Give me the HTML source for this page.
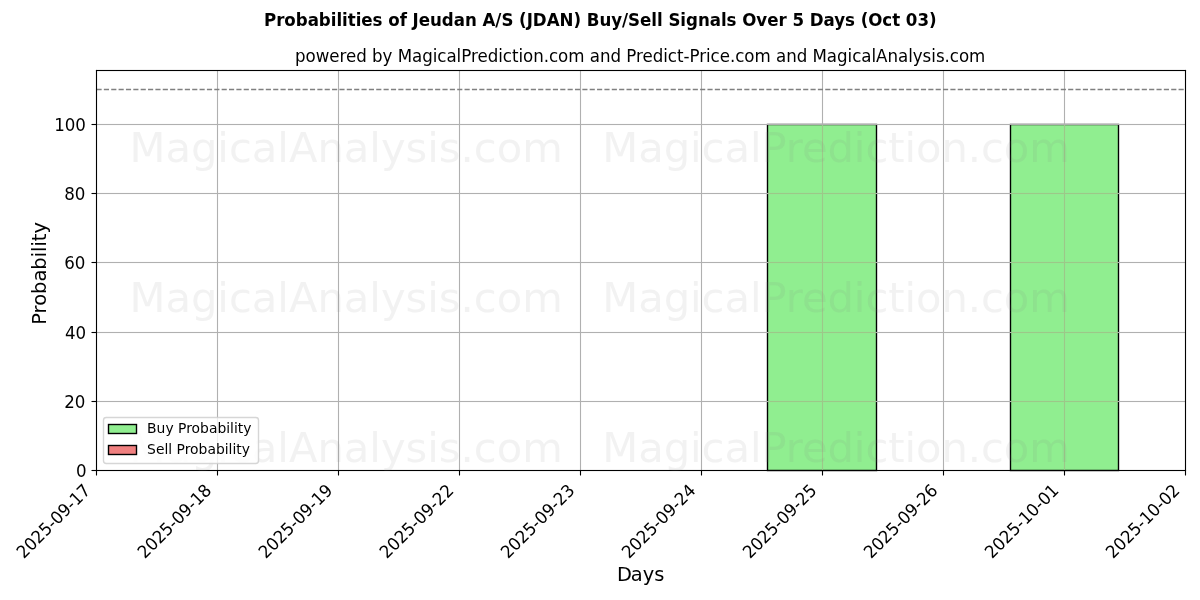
<!DOCTYPE html>
<html lang="en"><head><meta charset="utf-8">
<title>Probabilities of Jeudan A/S (JDAN) Buy/Sell Signals Over 5 Days (Oct 03)</title>
<style>
html,body{margin:0;padding:0;background:#fff;width:1200px;height:600px;overflow:hidden}
svg{display:block}
text{font-family:'DejaVu Sans', 'Liberation Sans', sans-serif;fill:#000}
.t12{font-size:16.667px}.t14{font-size:19.444px}.t10{font-size:13.889px}
.wm{font-size:41.667px;fill:#808080;fill-opacity:0.1;text-anchor:middle}
.grid rect{fill:#b0b0b0}
.tick line{stroke:#000;stroke-width:1.11}
.spine rect{fill:#000}
.bar{fill:#90ee90;stroke:#000;stroke-width:1.389;stroke-linejoin:miter}
</style></head><body>
<svg width="1200" height="600" viewBox="0 0 1200 600">
<rect x="0" y="0" width="1200" height="600" fill="#fff"/>
<g>
<rect class="bar" x="767.5" y="124.5" width="109" height="346"/>
<rect class="bar" x="1010.5" y="124.5" width="108" height="346"/>
</g>
<g class="grid">
<rect x="216.945" y="70.5" width="1.11" height="400.0"/>
<rect x="337.945" y="70.5" width="1.11" height="400.0"/>
<rect x="458.945" y="70.5" width="1.11" height="400.0"/>
<rect x="579.945" y="70.5" width="1.11" height="400.0"/>
<rect x="700.945" y="70.5" width="1.11" height="400.0"/>
<rect x="821.945" y="70.5" width="1.11" height="400.0"/>
<rect x="942.945" y="70.5" width="1.11" height="400.0"/>
<rect x="1063.945" y="70.5" width="1.11" height="400.0"/>
<rect x="96.5" y="123.945" width="1089.0" height="1.11"/>
<rect x="96.5" y="192.945" width="1089.0" height="1.11"/>
<rect x="96.5" y="261.945" width="1089.0" height="1.11"/>
<rect x="96.5" y="331.945" width="1089.0" height="1.11"/>
<rect x="96.5" y="400.945" width="1089.0" height="1.11"/>
</g>
<g stroke="#9cc888" stroke-width="1">
<line x1="822.5" y1="125.2" x2="822.5" y2="469.9"/>
<line x1="768.2" y1="193.5" x2="875.8" y2="193.5"/>
<line x1="768.2" y1="262.5" x2="875.8" y2="262.5"/>
<line x1="768.2" y1="332.5" x2="875.8" y2="332.5"/>
<line x1="768.2" y1="401.5" x2="875.8" y2="401.5"/>
<line x1="1064.5" y1="125.2" x2="1064.5" y2="469.9"/>
<line x1="1011.2" y1="193.5" x2="1117.8" y2="193.5"/>
<line x1="1011.2" y1="262.5" x2="1117.8" y2="262.5"/>
<line x1="1011.2" y1="332.5" x2="1117.8" y2="332.5"/>
<line x1="1011.2" y1="401.5" x2="1117.8" y2="401.5"/>
</g>
<g class="tick">
<line x1="96.5" y1="470.5" x2="96.5" y2="475.50"/>
<line x1="217.5" y1="470.5" x2="217.5" y2="475.50"/>
<line x1="338.5" y1="470.5" x2="338.5" y2="475.50"/>
<line x1="459.5" y1="470.5" x2="459.5" y2="475.50"/>
<line x1="580.5" y1="470.5" x2="580.5" y2="475.50"/>
<line x1="701.5" y1="470.5" x2="701.5" y2="475.50"/>
<line x1="822.5" y1="470.5" x2="822.5" y2="475.50"/>
<line x1="943.5" y1="470.5" x2="943.5" y2="475.50"/>
<line x1="1064.5" y1="470.5" x2="1064.5" y2="475.50"/>
<line x1="1185.5" y1="470.5" x2="1185.5" y2="475.50"/>
<line x1="91.50" y1="470.5" x2="96.5" y2="470.5"/>
<line x1="91.50" y1="401.5" x2="96.5" y2="401.5"/>
<line x1="91.50" y1="332.5" x2="96.5" y2="332.5"/>
<line x1="91.50" y1="262.5" x2="96.5" y2="262.5"/>
<line x1="91.50" y1="193.5" x2="96.5" y2="193.5"/>
<line x1="91.50" y1="124.5" x2="96.5" y2="124.5"/>
</g>
<line x1="96.5" y1="89.5" x2="1185" y2="89.5" stroke="#808080" stroke-width="1.389" stroke-dasharray="5.139 2.222"/>
<g class="spine">
<rect x="95.945" y="69.945" width="1.11" height="401.11"/>
<rect x="1184.945" y="69.945" width="1.11" height="401.11"/>
<rect x="95.945" y="469.945" width="1090.11" height="1.11"/>
<rect x="95.945" y="69.945" width="1090.11" height="1.11"/>
</g>
<g>
<text class="wm" transform="translate(346.100 162.197)">MagicalAnalysis.com</text>
<text class="wm" textLength="467.500" lengthAdjust="spacing" transform="translate(836.100 162.197)">MagicalPrediction.com</text>
<text class="wm" transform="translate(346.100 312.197)">MagicalAnalysis.com</text>
<text class="wm" textLength="467.500" lengthAdjust="spacing" transform="translate(836.100 312.197)">MagicalPrediction.com</text>
<text class="wm" transform="translate(346.100 462.197)">MagicalAnalysis.com</text>
<text class="wm" textLength="467.500" lengthAdjust="spacing" transform="translate(836.100 462.197)">MagicalPrediction.com</text>
</g>
<g class="t12">
<text textLength="95.900" lengthAdjust="spacing" transform="translate(23.758 559.352) rotate(-45) scale(1 1.0400)">2025-09-17</text>
<text textLength="95.900" lengthAdjust="spacing" transform="translate(144.792 559.352) rotate(-45) scale(1 1.0400)">2025-09-18</text>
<text textLength="95.900" lengthAdjust="spacing" transform="translate(265.825 559.352) rotate(-45) scale(1 1.0400)">2025-09-19</text>
<text textLength="95.900" lengthAdjust="spacing" transform="translate(386.858 559.352) rotate(-45) scale(1 1.0400)">2025-09-22</text>
<text textLength="95.900" lengthAdjust="spacing" transform="translate(507.892 559.352) rotate(-45) scale(1 1.0400)">2025-09-23</text>
<text textLength="95.900" lengthAdjust="spacing" transform="translate(628.926 559.352) rotate(-45) scale(1 1.0400)">2025-09-24</text>
<text textLength="95.900" lengthAdjust="spacing" transform="translate(749.959 559.352) rotate(-45) scale(1 1.0400)">2025-09-25</text>
<text textLength="95.900" lengthAdjust="spacing" transform="translate(870.993 559.352) rotate(-45) scale(1 1.0400)">2025-09-26</text>
<text textLength="95.900" lengthAdjust="spacing" transform="translate(992.026 559.352) rotate(-45) scale(1 1.0400)">2025-10-01</text>
<text textLength="95.900" lengthAdjust="spacing" transform="translate(1113.060 559.352) rotate(-45) scale(1 1.0400)">2025-10-02</text>
</g>
<g class="t12" text-anchor="end">
<text transform="translate(86.476 476.517) scale(1 1.0600)">0</text>
<text transform="translate(85.476 407.572) scale(1 1.0800)">20</text>
<text transform="translate(86.226 338.627) scale(1 1.0600)">40</text>
<text transform="translate(85.476 268.682) scale(1 1.0600)">60</text>
<text transform="translate(85.476 199.736) scale(1 1.0600)">80</text>
<text transform="translate(85.976 130.542) scale(1 1.0400)">100</text>
</g>
<text class="t14" text-anchor="middle" dx="1.1 -1.1" transform="translate(639.599 580.508) scale(1 1.0200)">Days</text>
<text class="t14" text-anchor="middle" transform="translate(45.564 273.384) rotate(-90)">Probability</text>
<text class="t12" text-anchor="middle" textLength="690.375" lengthAdjust="spacing" transform="translate(640.149 62.000) scale(1 1.0600)">powered by MagicalPrediction.com and Predict-Price.com and MagicalAnalysis.com</text>
<text class="t12" text-anchor="middle" font-weight="700" textLength="672.625" lengthAdjust="spacing" transform="translate(600.300 25.664) scale(1 1.0200)">Probabilities of Jeudan A/S (JDAN) Buy/Sell Signals Over 5 Days (Oct 03)</text>
<g>
<rect x="103.5" y="417.5" width="155" height="46" rx="2.78" ry="2.78" fill="#fff" fill-opacity="0.8" stroke="#ccc" stroke-opacity="0.8" stroke-width="1.389"/>
<rect x="108.5" y="424.5" width="28" height="9" fill="#90ee90" stroke="#000" stroke-width="1.389"/>
<rect x="108.5" y="445.5" width="28" height="9" fill="#f08080" stroke="#000" stroke-width="1.389"/>
<text class="t10" transform="translate(147.087 432.661) scale(1 0.9800)">Buy Probability</text>
<text class="t10" transform="translate(147.087 453.547) scale(1 0.9800)">Sell Probability</text>
</g>
</svg>
</body></html>
